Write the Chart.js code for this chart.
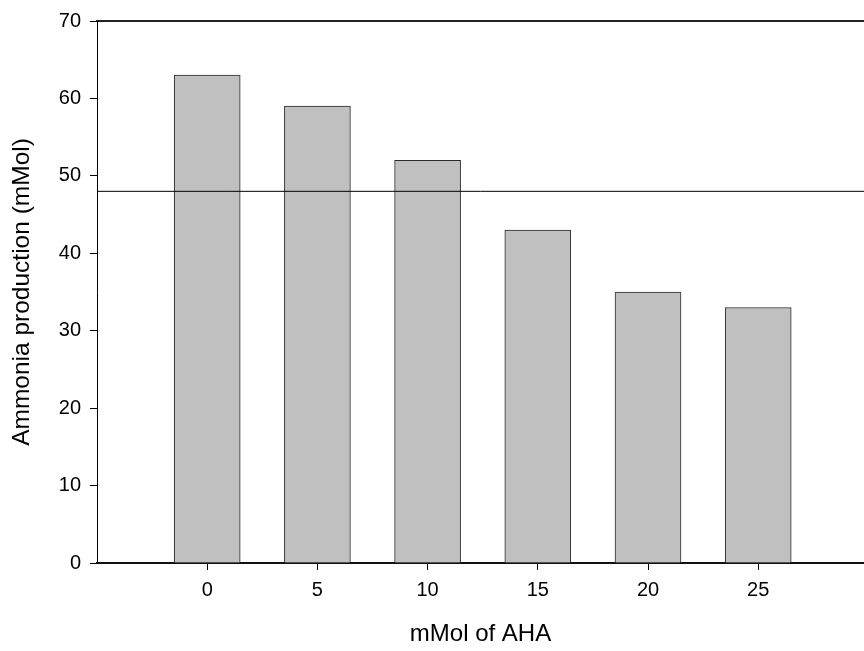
<!DOCTYPE html>
<html>
<head>
<meta charset="utf-8">
<script src="https://cdn.jsdelivr.net/npm/chart.js@4/dist/chart.umd.min.js"></script>
<style>
  html, body { margin: 0; padding: 0; background: #fff; }
  #wrap { width: 864px; height: 651px; }
</style>
</head>
<body>
<div id="wrap"><canvas id="c" width="864" height="651"></canvas></div>
<script>
// AHA dose (mMol) and measured ammonia production (mMol)
const doses = [0, 5, 10, 15, 20, 25];
const ammonia = [63, 59, 52, 43, 35, 33];
// reference level drawn across the plot
const referenceLevel = 48;
const xTicks = [0, 5, 10, 15, 20, 25];
const yTicks = [0, 10, 20, 30, 40, 50, 60, 70];

const X_MIN = -5, X_MAX = 29.8;
const FONT = '"Liberation Sans", Arial, sans-serif';

new Chart(document.getElementById('c'), {
  data: {
    datasets: [
      {
        type: 'bar',
        data: doses.map((d, i) => ({ x: d, y: ammonia[i] })),
        backgroundColor: '#c0c0c0',
        borderColor: '#2a2a2a',
        borderWidth: 1,
        barThickness: 66,
        order: 2
      },
      {
        type: 'line',
        data: [{ x: X_MIN, y: referenceLevel }, { x: X_MAX, y: referenceLevel }],
        borderColor: '#000',
        borderWidth: 1,
        pointRadius: 0,
        order: 1
      }
    ]
  },
  options: {
    responsive: false,
    animation: false,
    layout: { padding: { top: 20, right: 0, left: 0, bottom: 0 } },
    plugins: { legend: { display: false }, tooltip: { enabled: false } },
    scales: {
      x: {
        type: 'linear',
        position: 'bottom',
        min: X_MIN,
        max: X_MAX,
        offset: false,
        afterBuildTicks: s => { s.ticks = xTicks.map(v => ({ value: v })); },
        afterFit: s => { s.height = 88; },
        grid: { offset: false, drawOnChartArea: false, drawTicks: true, tickLength: 7, color: '#000', lineWidth: 1 },
        border: { display: true, color: '#111', width: 2 },
        ticks: { color: '#000', padding: 8, font: { family: FONT, size: 20 }, maxRotation: 0 },
        title: { display: true, text: 'mMol of AHA', color: '#000', font: { family: FONT, size: 24 }, padding: { top: 0, bottom: 2 } }
      },
      xTop: {
        type: 'linear',
        position: 'top',
        min: X_MIN,
        max: X_MAX,
        afterFit: s => { s.height = 0; },
        grid: { display: false },
        ticks: { display: false },
        border: { display: true, color: '#222', width: 2 }
      },
      y: {
        min: 0,
        max: 70,
        afterBuildTicks: s => { s.ticks = yTicks.map(v => ({ value: v })); },
        afterFit: s => { s.width = 97; },
        grid: { drawOnChartArea: false, drawTicks: true, tickLength: 7, color: '#000', lineWidth: 1 },
        border: { display: true, color: '#000', width: 1 },
        ticks: { color: '#000', padding: 9, font: { family: FONT, size: 20 } },
        title: { display: true, text: 'Ammonia production (mMol)', color: '#000', font: { family: FONT, size: 24.5 }, padding: { top: 8, bottom: 0 } }
      }
    }
  }
});
</script>
</body>
</html>
